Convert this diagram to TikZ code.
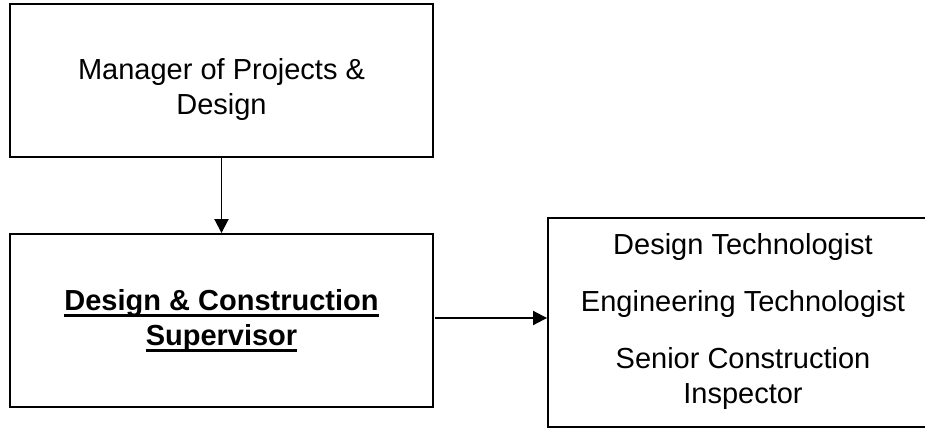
\documentclass[tikz,border=0pt]{standalone}
\usepackage{fontspec}
\setmainfont{Liberation Sans}
\usetikzlibrary{arrows.meta}
\newcommand\ulbox[1]{\setbox0\hbox{#1}\rlap{\rule[-6.5pt]{\wd0}{3pt}}\box0}
\begin{document}
\begin{tikzpicture}[x=1pt,y=-1pt,
  box/.style={draw, line width=1.9pt, rectangle, inner sep=0pt},
  txt/.style={anchor=base, inner sep=0pt, font=\fontsize{29pt}{35pt}\selectfont},
  arr/.style={line width=1.9pt, -{Triangle[length=14pt,width=14pt]}}]
\useasboundingbox (0,0) rectangle (925,428);
\clip (0,0) rectangle (925,428);
\fill[white] (0,0) rectangle (925,428);
% boxes
\node[box, minimum width=423pt, minimum height=153pt] (box1) at (221.5,80.5) {};
\node[box, minimum width=423pt, minimum height=173pt] (box2) at (221.5,320.5) {};
\node[box, minimum width=390pt, minimum height=209pt] (box3) at (743,322.5) {};
% texts
\node[txt] (t1) at (221.5,79) {\begin{tabular}[t]{@{}c@{}}Manager of Projects \&\\Design\end{tabular}};
\node[txt] (t2) at (221.5,310) {\bfseries\begin{tabular}[t]{@{}c@{}}\ulbox{Design \& Construction}\\\ulbox{Supervisor}\end{tabular}};
\node[txt] (t3) at (743,254) {\begin{tabular}[t]{@{}c@{}}Design Technologist\\[22pt]Engineering Technologist\\[22pt]Senior Construction\\Inspector\end{tabular}};
% connectors
\draw[arr] (box1.south) -- (box2.north);
\coordinate (hstart) at (435,318);
\draw[arr] (hstart) -- (hstart -| box3.west);
\end{tikzpicture}
\end{document}
